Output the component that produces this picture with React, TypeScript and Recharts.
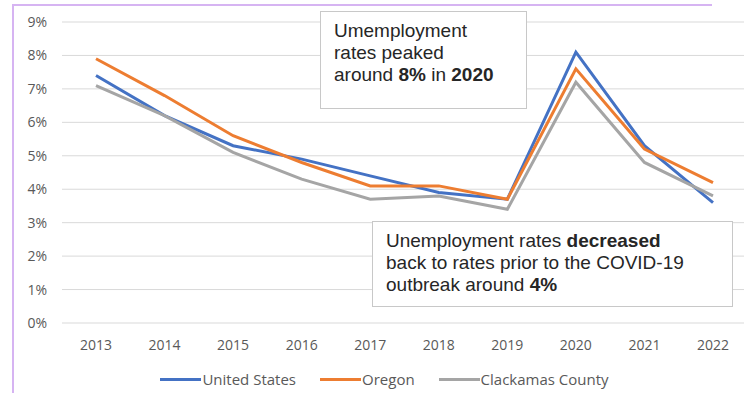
import { LineChart, Line, XAxis, YAxis, CartesianGrid, Legend } from 'recharts';

const years = ['2013', '2014', '2015', '2016', '2017', '2018', '2019', '2020', '2021', '2022'];
const unitedStates = [7.4, 6.2, 5.3, 4.9, 4.4, 3.9, 3.7, 8.1, 5.3, 3.6];
const oregon = [7.9, 6.8, 5.6, 4.8, 4.1, 4.1, 3.7, 7.6, 5.2, 4.2];
const clackamas = [7.1, 6.2, 5.1, 4.3, 3.7, 3.8, 3.4, 7.2, 4.8, 3.8];
const yTicks = [0, 1, 2, 3, 4, 5, 6, 7, 8, 9];

const series = [
  { key: 'us', name: 'United States', color: '#4472C4', values: unitedStates },
  { key: 'or', name: 'Oregon', color: '#ED7D31', values: oregon },
  { key: 'cc', name: 'Clackamas County', color: '#A5A5A5', values: clackamas },
];

const data = years.map((year, i) => {
  const row: Record<string, string | number> = { year };
  series.forEach((s) => (row[s.key] = s.values[i]));
  return row;
});

const tickStyle = { fontSize: 14, fill: '#595959', fontFamily: 'Open Sans' };

function LegendRow() {
  return (
    <div style={{ display: 'flex', justifyContent: 'center', gap: 24, height: 20, alignItems: 'center', fontFamily: 'Open Sans', fontSize: 15, color: '#595959', paddingLeft: 22 }}>
      {series.map((s) => (
        <div key={s.key} style={{ display: 'flex', alignItems: 'center', gap: 1 }}>
          <span style={{ display: 'inline-block', width: 41, height: 3, background: s.color }} />
          <span>{s.name}</span>
        </div>
      ))}
    </div>
  );
}

const boxStyle: React.CSSProperties = {
  position: 'absolute',
  background: '#fff',
  border: '1.5px solid #c8c8c8',
  boxSizing: 'border-box',
  fontFamily: 'Liberation Sans, Arial, sans-serif',
  fontSize: 19,
  lineHeight: '22px',
  color: '#262626',
};

export default function App() {
  return (
    <div style={{ position: 'absolute', left: 0, top: 0, width: 744, height: 393, overflow: 'hidden', background: '#fff' }}>
      <LineChart width={752} height={393} data={data} margin={{ top: 22, right: 5, left: 0, bottom: 4 }}>
        <CartesianGrid vertical={false} stroke="#d9d9d9" />
        <XAxis
          dataKey="year"
          axisLine={false}
          tickLine={false}
          tick={tickStyle}
          tickMargin={11}
          height={46}
          padding={{ left: 34, right: 34 }}
        />
        <YAxis
          domain={[0, 9]}
          ticks={yTicks}
          tickFormatter={(v) => `${v}%`}
          axisLine={false}
          tickLine={false}
          tick={tickStyle}
          tickMargin={9}
          width={62}
        />
        <Legend verticalAlign="bottom" content={() => <LegendRow />} />
        {series.map((s) => (
          <Line
            key={s.key}
            dataKey={s.key}
            name={s.name}
            stroke={s.color}
            strokeWidth={3}
            dot={false}
            type="linear"
            isAnimationActive={false}
          />
        ))}
      </LineChart>

      <div style={{ ...boxStyle, left: 320, top: 11, width: 207, height: 98, padding: '8px 13px' }}>
        Umemployment
        <br />
        rates peaked
        <br />
        around <b>8%</b> in <b>2020</b>
      </div>
      <div style={{ ...boxStyle, left: 372, top: 221, width: 361, height: 86, padding: '8px 13px' }}>
        Unemployment rates <b>decreased</b>
        <br />
        back to rates prior to the COVID-19
        <br />
        outbreak around <b>4%</b>
      </div>

      {/* frame edges */}
      <div style={{ position: 'absolute', left: 12, top: 4, width: 700, height: 1.5, background: '#d6b4f2' }} />
      <div style={{ position: 'absolute', left: 12, top: 4, width: 1.5, height: 389, background: '#d6b4f2' }} />
    </div>
  );
}
